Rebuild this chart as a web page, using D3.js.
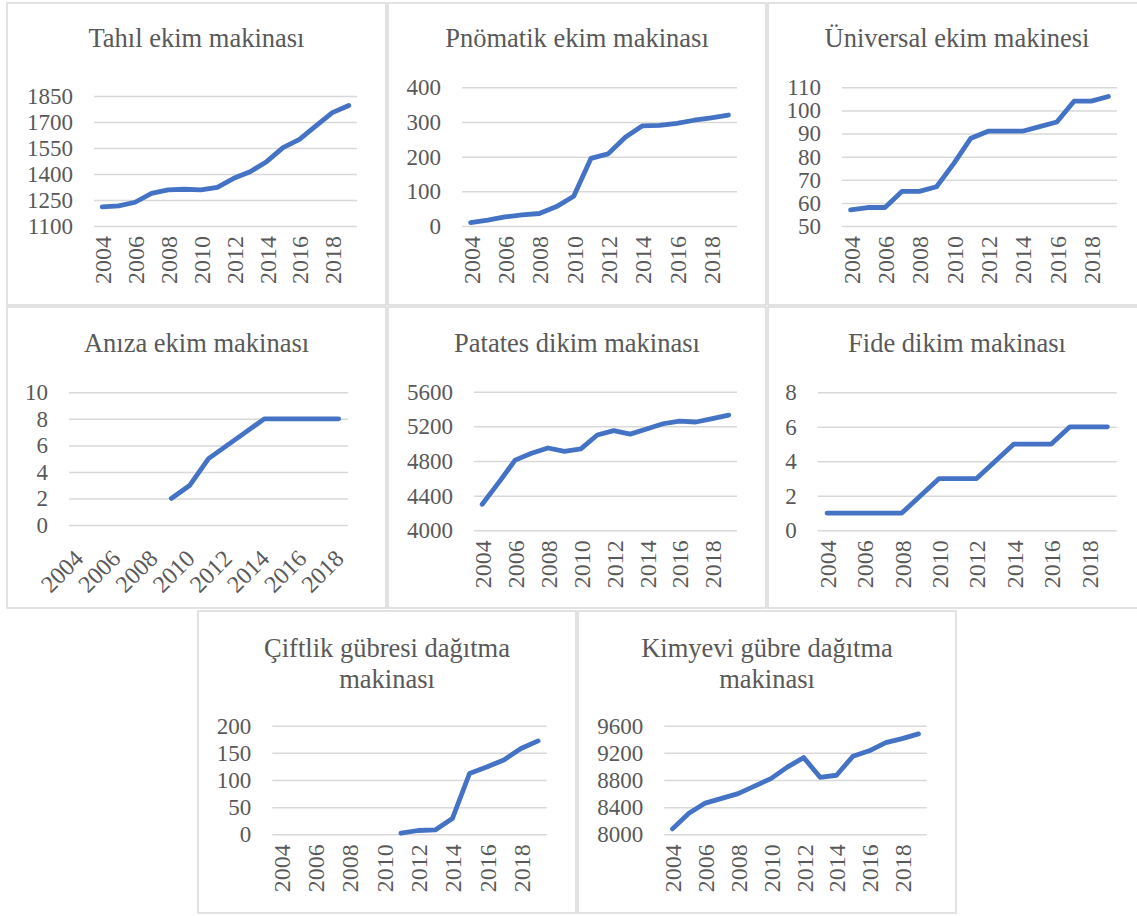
<!DOCTYPE html>
<html>
<head>
<meta charset="utf-8">
<script src="https://cdn.jsdelivr.net/npm/d3@7"></script>
<style>
  html, body { margin: 0; padding: 0; background: #ffffff; }
  svg { display: block; }
  text { font-family: "Liberation Serif", "Times New Roman", serif; fill: #595959; }
</style>
</head>
<body>
<svg id="chart" width="1137" height="916"></svg>
<script>
// Years on the category axis
const years = [2004, 2005, 2006, 2007, 2008, 2009, 2010, 2011, 2012, 2013, 2014, 2015, 2016, 2017, 2018, 2019];
const yearsShort = [2004, 2005, 2006, 2007, 2008, 2009, 2010, 2011, 2012, 2013, 2014, 2015, 2016, 2017, 2018];
const yearLabels = [2004, 2006, 2008, 2010, 2012, 2014, 2016, 2018];

// Machine counts per year (null = no record)
const tahil     = [1210, 1216, 1237, 1288, 1308, 1312, 1308, 1323, 1375, 1413, 1471, 1552, 1600, 1677, 1754, 1795];
const pnomatik  = [10, 17, 26, 32, 36, 56, 86, 195, 208, 256, 289, 290, 296, 305, 312, 320];
const universal = [57, 58, 58, 65, 65, 67, 77, 88, 91, 91, 91, 93, 95, 104, 104, 106];
const aniza     = [null, null, null, null, null, 2, 3, 5, 6, 7, 8, 8, 8, 8, 8];
const patates   = [4300, 4550, 4810, 4890, 4950, 4910, 4940, 5100, 5150, 5110, 5170, 5230, 5260, 5250, 5290, 5330];
const fide      = [1, 1, 1, 1, 1, 2, 3, 3, 3, 4, 5, 5, 5, 6, 6, 6];
const ciftlik   = [null, null, null, null, null, null, null, 2, 7, 8, 29, 112, 124, 137, 158, 172];
const kimyevi   = [8080, 8310, 8460, 8530, 8600, 8710, 8820, 8990, 9130, 8840, 8870, 9150, 9230, 9350, 9410, 9480];

// Value-axis ticks
const tahilTicks     = [1100, 1250, 1400, 1550, 1700, 1850];
const pnomatikTicks  = [0, 100, 200, 300, 400];
const universalTicks = [50, 60, 70, 80, 90, 100, 110];
const anizaTicks     = [0, 2, 4, 6, 8, 10];
const patatesTicks   = [4000, 4400, 4800, 5200, 5600];
const fideTicks      = [0, 2, 4, 6, 8];
const ciftlikTicks   = [0, 50, 100, 150, 200];
const kimyeviTicks   = [8000, 8400, 8800, 9200, 9600];

// Titles
const titles = [
  ["Tahıl ekim makinası"],
  ["Pnömatik ekim makinası"],
  ["Üniversal ekim makinesi"],
  ["Anıza ekim makinası"],
  ["Patates dikim makinası"],
  ["Fide dikim makinası"],
  ["Çiftlik gübresi dağıtma", "makinası"],
  ["Kimyevi gübre dağıtma", "makinası"]
];

// Panel frames, plot areas and label styles
const panels = [
  { title: titles[0], cats: years, values: tahil, ticks: tahilTicks,
    box: [7, 3, 379, 302], plot: [94, 96, 357, 226], titleY: [47], rot: -90 },
  { title: titles[1], cats: years, values: pnomatik, ticks: pnomatikTicks,
    box: [388, 3, 378, 302], plot: [462, 87.3, 737, 226], titleY: [47], rot: -90 },
  { title: titles[2], cats: years, values: universal, ticks: universalTicks,
    box: [768, 3, 378, 302], plot: [842, 87.3, 1117, 226], titleY: [47], rot: -90 },
  { title: titles[3], cats: yearsShort, values: aniza, ticks: anizaTicks,
    box: [7, 307, 379, 301], plot: [69, 392.3, 348, 525], titleY: [352], rot: -45 },
  { title: titles[4], cats: years, values: patates, ticks: patatesTicks,
    box: [388, 307, 378, 301], plot: [474, 391.7, 737, 530.3], titleY: [352], rot: -90 },
  { title: titles[5], cats: years, values: fide, ticks: fideTicks,
    box: [768, 307, 378, 301], plot: [817.7, 392.3, 1116.7, 530.3], titleY: [352], rot: -90 },
  { title: titles[6], cats: years, values: ciftlik, ticks: ciftlikTicks,
    box: [198, 611, 378, 302], plot: [272.3, 725.7, 546.7, 834.3], titleY: [657, 688], rot: -90 },
  { title: titles[7], cats: years, values: kimyevi, ticks: kimyeviTicks,
    box: [578, 611, 378, 302], plot: [664.3, 725.7, 926.7, 834.3], titleY: [657, 688], rot: -90 }
];

const svg = d3.select("#chart");
const lineColor = "#4472c4";
const gridColor = "#d9d9d9";
const serif = "'Liberation Serif', 'Times New Roman', serif";

panels.forEach(p => {
  const g = svg.append("g");
  const [bx, by, bw, bh] = p.box;
  const [x0, y0, x1, y1] = p.plot;

  g.append("rect")
    .attr("x", bx).attr("y", by).attr("width", bw).attr("height", bh)
    .attr("fill", "#ffffff").attr("stroke", gridColor).attr("stroke-width", 1.5);

  const cx = bx + bw / 2;
  p.title.forEach((t, i) => {
    g.append("text")
      .attr("x", cx).attr("y", p.titleY[i])
      .attr("text-anchor", "middle")
      .style("font-size", "26.5px")
      .text(t);
  });

  const x = d3.scalePoint().domain(p.cats).range([x0, x1]).padding(0.5);
  const y = d3.scaleLinear().domain(d3.extent(p.ticks)).range([y1, y0]);

  // gridlines
  const grid = g.append("g").attr("transform", `translate(${x0},0)`)
    .call(d3.axisLeft(y).tickValues(p.ticks).tickSize(-(x1 - x0)).tickFormat(""));
  grid.select(".domain").remove();
  grid.selectAll("line").attr("stroke", gridColor).attr("stroke-width", 1.5);

  // value labels
  const ya = g.append("g").attr("transform", `translate(${x0},0)`)
    .call(d3.axisLeft(y).tickValues(p.ticks).tickSize(0).tickPadding(21).tickFormat(d3.format("d")));
  ya.attr("font-family", serif);
  ya.select(".domain").remove();
  ya.selectAll("text")
    .attr("fill", "#595959")
    .style("font-size", "23px")
    .style("font-family", serif);

  // year labels
  const xa = g.append("g").attr("transform", `translate(0,${y1})`)
    .call(d3.axisBottom(x).tickValues(yearLabels).tickSize(0).tickFormat(d3.format("d")));
  xa.attr("font-family", serif);
  xa.select(".domain").remove();
  const xt = xa.selectAll("text")
    .attr("fill", "#595959")
    .style("font-size", "24px")
    .style("font-family", serif)
    .attr("x", 0).attr("y", 0).attr("dy", "0.35em")
    .attr("text-anchor", "end");
  if (p.rot === -90) {
    xt.attr("transform", "translate(0,10) rotate(-90)");
  } else {
    xt.attr("transform", "translate(0,29) rotate(-45)");
  }

  // series line
  const line = d3.line()
    .defined(d => d.v != null)
    .x(d => x(d.c))
    .y(d => y(d.v));
  g.append("path")
    .datum(p.cats.map((c, i) => ({ c, v: p.values[i] })))
    .attr("d", line)
    .attr("fill", "none")
    .attr("stroke", lineColor)
    .attr("stroke-width", 4.8)
    .attr("stroke-linejoin", "round")
    .attr("stroke-linecap", "round");
});
</script>
</body>
</html>
